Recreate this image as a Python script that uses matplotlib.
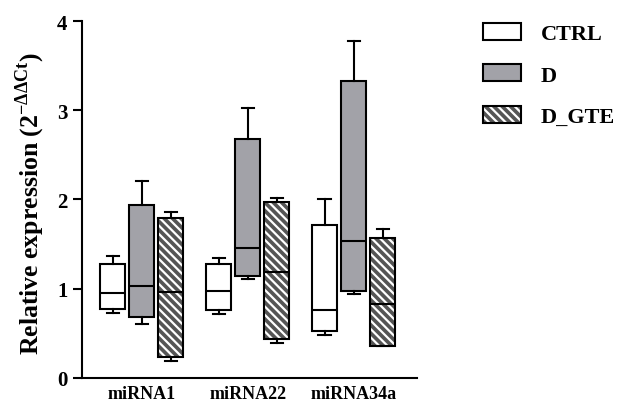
import matplotlib
matplotlib.use("Agg")
import matplotlib.pyplot as plt
from matplotlib.patches import Patch

plt.rcParams['font.family'] = ['Liberation Serif', 'DejaVu Serif']
plt.rcParams['font.weight'] = 'bold'
plt.rcParams['mathtext.fontset'] = 'custom'
plt.rcParams['mathtext.rm'] = 'Liberation Serif'
plt.rcParams['mathtext.bf'] = 'Liberation Serif:bold'
plt.rcParams['hatch.linewidth'] = 1.6

genes = ['miRNA1', 'miRNA22', 'miRNA34a']
groups = ['CTRL', 'D', 'D_GTE']

# per gene: [whislo, q1, median, q3, whishi]
ctrl = [[0.725, 0.77, 0.95, 1.27, 1.36],
        [0.714, 0.76, 0.97, 1.27, 1.34],
        [0.48, 0.527, 0.76, 1.71, 2.0]]
d = [[0.60, 0.677, 1.03, 1.94, 2.205],
     [1.107, 1.143, 1.457, 2.68, 3.03],
     [0.935, 0.969, 1.536, 3.33, 3.775]]
d_gte = [[0.19, 0.232, 0.957, 1.787, 1.854],
         [0.389, 0.434, 1.18, 1.966, 2.018],
         [0.359, 0.359, 0.823, 1.566, 1.664]]


def stats(rows):
    return [dict(whislo=r[0], q1=r[1], med=r[2], q3=r[3], whishi=r[4], fliers=[])
            for r in rows]


fig = plt.figure(figsize=(6.21, 4.02), dpi=100)
ax = fig.add_axes([0.132, 0.058, 0.539, 0.887])

offs = [-0.274, 0.0, 0.274]
w = 0.236
lp = dict(color='black', linewidth=1.5)
hatch = '\\\\\\\\'


def draw(data, off, face, hatch=None):
    pos = [i + off for i in range(len(genes))]
    if hatch:
        ax.bxp(stats(data), positions=pos, widths=w, patch_artist=True,
               showfliers=False, manage_ticks=False, showcaps=False,
               boxprops=dict(facecolor=face, edgecolor='white', hatch=hatch, linewidth=0),
               whiskerprops=dict(linewidth=0), medianprops=dict(linewidth=0))
    ax.bxp(stats(data), positions=pos, widths=w, patch_artist=True,
           showfliers=False, manage_ticks=False, capwidths=w * 0.5,
           boxprops=dict(facecolor='none' if hatch else face, edgecolor='black', linewidth=1.5),
           whiskerprops=lp, capprops=lp, medianprops=lp)


draw(ctrl, offs[0], 'white')
draw(d, offs[1], '#a2a2a8')
draw(d_gte, offs[2], '#555555', hatch=hatch)

ax.set_xlim(-0.566, 2.594)
ax.set_ylim(0, 4)
ax.set_yticks([0, 1, 2, 3, 4])
ax.set_xticks(range(len(genes)))
ax.set_xticklabels(genes, fontsize=13, fontweight='bold')
ax.tick_params(axis='x', length=0, pad=5)
ax.tick_params(axis='y', labelsize=15, width=1.5, length=6.5, pad=4)
for s in ['top', 'right']:
    ax.spines[s].set_visible(False)
for s in ['left', 'bottom']:
    ax.spines[s].set_linewidth(1.5)
ax.set_ylabel(r'Relative expression (2$^{-\Delta\Delta\mathrm{Ct}}$)', fontsize=18.5,
              fontweight='bold')
ax.yaxis.set_label_coords(-0.105, 0.49)

h_ctrl = Patch(facecolor='white', edgecolor='black', linewidth=1.5)
h_d = Patch(facecolor='#a2a2a8', edgecolor='black', linewidth=1.5)
h_gte = (Patch(facecolor='#555555', edgecolor='white', hatch=hatch, linewidth=0),
         Patch(facecolor='none', edgecolor='black', linewidth=1.5))
fig.legend(handles=[h_ctrl, h_d, h_gte], labels=groups, loc='upper left',
           bbox_to_anchor=(0.778, 0.94), frameon=False, fontsize=16,
           borderpad=0, borderaxespad=0, handlelength=1.7, handleheight=0.8,
           labelspacing=0.9, handletextpad=0.9)

fig.savefig('out.png', dpi=100)
